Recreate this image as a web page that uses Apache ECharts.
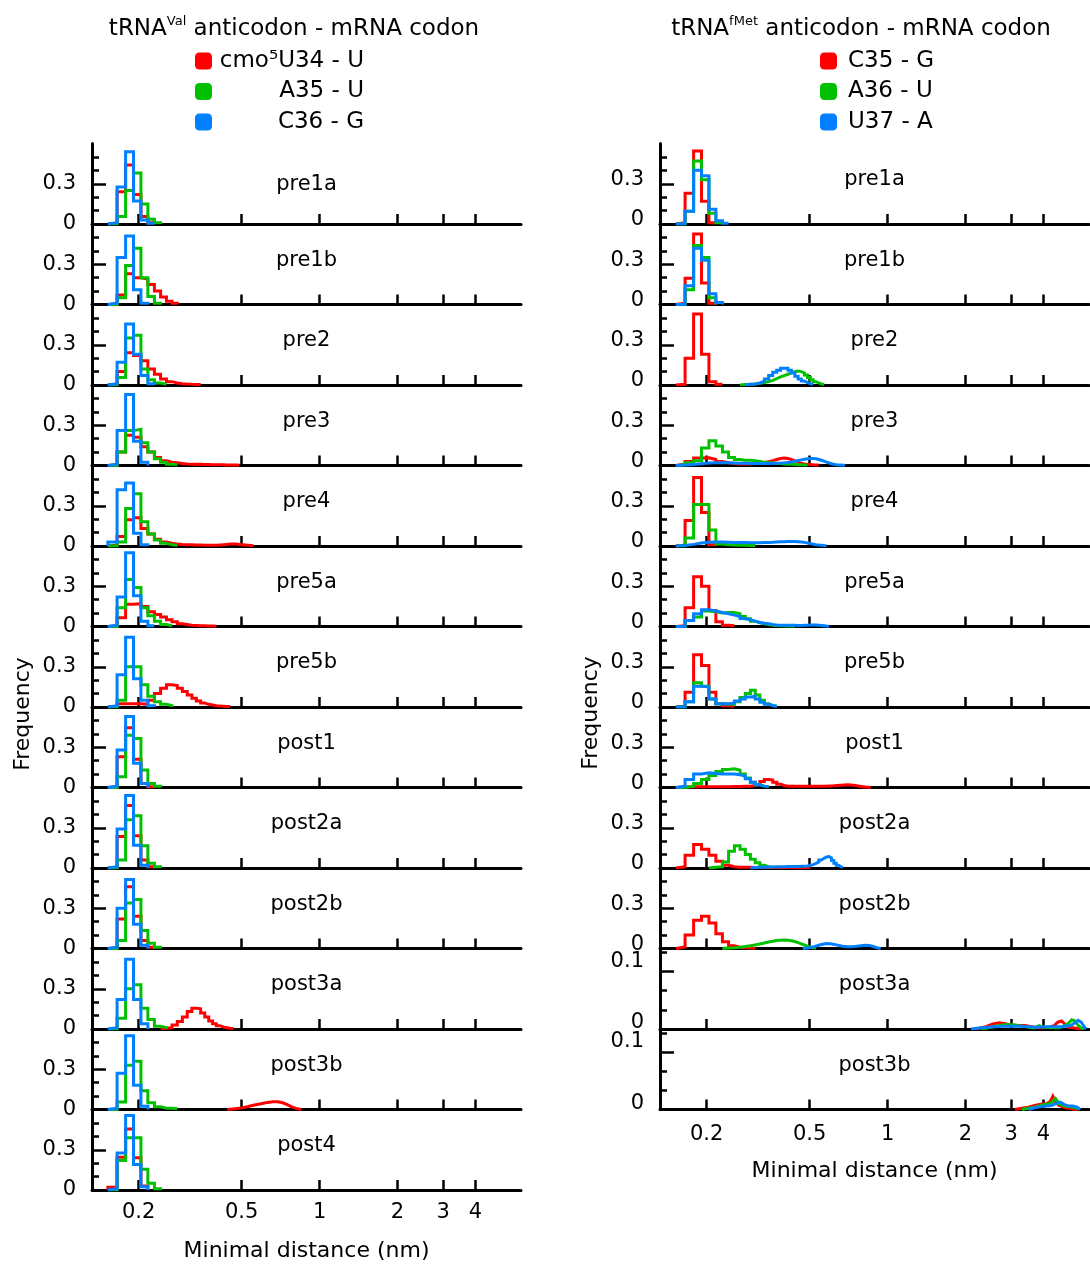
<!DOCTYPE html>
<html><head><meta charset="utf-8">
<script src="https://cdn.jsdelivr.net/npm/echarts@6/dist/echarts.min.js"></script>
<style>html,body{margin:0;padding:0;background:#fff}#c{width:1090px;height:1265px}</style>
</head><body><div id="c"></div><script>
// ---------- categories / labels ----------
const LEFT_PANELS = ['pre1a','pre1b','pre2','pre3','pre4','pre5a','pre5b','post1','post2a','post2b','post3a','post3b','post4'];
const RIGHT_PANELS = ['pre1a','pre1b','pre2','pre3','pre4','pre5a','pre5b','post1','post2a','post2b','post3a','post3b'];
const LEFT_NAMES = ['cmo\u2075U34 - U', 'A35 - U', 'C36 - G'];
const RIGHT_NAMES = ['C35 - G', 'A36 - U', 'U37 - A'];
const X_TICKS = [0.2, 0.5, 1, 2, 3, 4];
const X_RANGE = [0.132, 6];
const Y_TICKS_MAIN = [0, 0.3];
const Y_TICKS_SMALL = [0, 0.1];
const BIN_W = 0.013; // histogram bin width (nm)

// ---------- data ----------
// histogram arrays: [left edge of first bin (nm), frequency per bin ...]
// curve arrays: [[distance (nm), frequency], ...]
const L_pre1a_cmo5U34 = [0.152, 0.005, 0.24, 0.44, 0.22, 0.056, 0.01];
const L_pre1a_A35 = [0.152, 0, 0.056, 0.25, 0.38, 0.15, 0.036, 0.01];
const L_pre1a_C36 = [0.152, 0.01, 0.276, 0.539, 0.171, 0.03, 0.005];

const L_pre1b_cmo5U34 = [0.152, 0.005, 0.07, 0.23, 0.2, 0.19, 0.15, 0.1, 0.055, 0.025, 0.01];
const L_pre1b_A35 = [0.152, 0, 0.05, 0.29, 0.42, 0.2, 0.06, 0.01];
const L_pre1b_C36 = [0.152, 0.01, 0.35, 0.51, 0.11, 0.01];

const L_pre2_cmo5U34 = [0.152, 0.005, 0.1, 0.24, 0.22, 0.18, 0.12, 0.08, 0.045, 0.025, 0.015, 0.01, 0.007, 0.005, 0.004, 0.003];
const L_pre2_A35 = [0.152, 0, 0.055, 0.35, 0.37, 0.12, 0.04, 0.015, 0.005];
const L_pre2_C36 = [0.152, 0.01, 0.17, 0.455, 0.23, 0.07, 0.01];

const L_pre3_cmo5U34 = [0.152, 0.005, 0.1, 0.225, 0.21, 0.14, 0.1, 0.06, 0.035, 0.025, 0.02, 0.015, 0.012, 0.01, 0.01, 0.009, 0.008, 0.007, 0.006, 0.006, 0.005, 0.005, 0.004, 0.004, 0.003, 0.003, 0.002];
const L_pre3_A35 = [0.152, 0, 0.1, 0.26, 0.27, 0.17, 0.1, 0.05, 0.025, 0.01, 0.005];
const L_pre3_C36 = [0.152, 0.01, 0.26, 0.53, 0.18, 0.025];

const L_pre4_cmo5U34 = [0.152, 0.005, 0.07, 0.195, 0.21, 0.13, 0.09, 0.05, 0.03, 0.02, 0.015, 0.012, 0.01, 0.01, 0.008, 0.007, 0.006, 0.005, 0.005, 0.006, 0.008, 0.01, 0.012, 0.014, 0.015, 0.014, 0.012, 0.01, 0.008, 0.006, 0.004, 0.002];
const L_pre4_A35 = [0.152, 0, 0.03, 0.28, 0.39, 0.18, 0.09, 0.045, 0.02, 0.01, 0.005];
const L_pre4_C36 = [0.152, 0.03, 0.42, 0.47, 0.095, 0.01];

const L_pre5a_cmo5U34 = [0.152, 0.005, 0.065, 0.165, 0.17, 0.15, 0.11, 0.09, 0.07, 0.05, 0.035, 0.02, 0.015, 0.01, 0.008, 0.006, 0.005, 0.004, 0.003, 0.002];
const L_pre5a_A35 = [0.152, 0, 0.14, 0.35, 0.29, 0.14, 0.08, 0.04, 0.015, 0.005];
const L_pre5a_C36 = [0.152, 0.01, 0.22, 0.55, 0.23, 0.04, 0.005];

const L_pre5b_cmo5U34 = [0.152, 0.005, 0.025, 0.025, 0.025, 0.02, 0.05, 0.1, 0.14, 0.165, 0.16, 0.14, 0.115, 0.09, 0.065, 0.045, 0.03, 0.02, 0.015, 0.01, 0.008, 0.006, 0.004, 0.003];
const L_pre5b_A35 = [0.152, 0, 0.05, 0.3, 0.3, 0.165, 0.08, 0.04, 0.02, 0.01];
const L_pre5b_C36 = [0.152, 0.01, 0.24, 0.52, 0.21, 0.05, 0.01];

const L_post1_cmo5U34 = [0.152, 0.005, 0.23, 0.445, 0.21, 0.03, 0.005];
const L_post1_A35 = [0.152, 0, 0.08, 0.39, 0.365, 0.13, 0.03, 0.01];
const L_post1_C36 = [0.152, 0.01, 0.28, 0.53, 0.18, 0.03];

const L_post2a_cmo5U34 = [0.152, 0.005, 0.235, 0.465, 0.24, 0.06, 0.01];
const L_post2a_A35 = [0.152, 0, 0.06, 0.36, 0.39, 0.165, 0.035, 0.01];
const L_post2a_C36 = [0.152, 0.01, 0.29, 0.54, 0.17, 0.02];

const L_post2b_cmo5U34 = [0.152, 0.005, 0.22, 0.46, 0.24, 0.06, 0.01];
const L_post2b_A35 = [0.152, 0, 0.06, 0.34, 0.365, 0.135, 0.04, 0.01];
const L_post2b_C36 = [0.152, 0.01, 0.3, 0.515, 0.18, 0.025];

const L_post3a_cmo5U34 = [0.243, 0.005, 0.01, 0.03, 0.055, 0.09, 0.13, 0.155, 0.15, 0.12, 0.09, 0.06, 0.04, 0.025, 0.015, 0.01, 0.005, 0.003];
const L_post3a_A35 = [0.152, 0, 0.08, 0.3, 0.33, 0.155, 0.07, 0.02, 0.01];
const L_post3a_C36 = [0.152, 0.01, 0.22, 0.52, 0.22, 0.04];

const L_post3b_cmo5U34 = [[0.44,0],[0.47,0.005],[0.5,0.012],[0.53,0.022],[0.56,0.033],[0.6,0.045],[0.63,0.053],[0.66,0.058],[0.69,0.057],[0.72,0.05],[0.75,0.036],[0.78,0.02],[0.81,0.008],[0.85,0]];
const L_post3b_A35 = [0.152, 0, 0.055, 0.33, 0.36, 0.14, 0.05, 0.02, 0.01, 0.01, 0.005];
const L_post3b_C36 = [0.152, 0.01, 0.27, 0.55, 0.18, 0.025];

const L_post4_cmo5U34 = [0.152, 0.02, 0.245, 0.455, 0.24, 0.03];
const L_post4_A35 = [0.152, 0, 0.22, 0.39, 0.39, 0.155, 0.05, 0.01];
const L_post4_C36 = [0.152, 0.01, 0.275, 0.555, 0.19, 0.025];

const R_pre1a_C35 = [0.152, 0.01, 0.23, 0.545, 0.17, 0.01];
const R_pre1a_A36 = [0.152, 0, 0.095, 0.47, 0.33, 0.08, 0.01];
const R_pre1a_U37 = [0.152, 0, 0.095, 0.4, 0.36, 0.11, 0.025, 0.005];

const R_pre1b_C35 = [0.152, 0.01, 0.195, 0.525, 0.16, 0.01];
const R_pre1b_A36 = [0.152, 0, 0.11, 0.44, 0.35, 0.05];
const R_pre1b_U37 = [0.152, 0, 0.14, 0.42, 0.33, 0.08, 0.015];

const R_pre2_C35 = [0.152, 0.005, 0.2, 0.53, 0.23, 0.025, 0.005];
const R_pre2_A36 = [0.269, 0.003, 0.005, 0.008, 0.012, 0.018, 0.025, 0.035, 0.048, 0.06, 0.07, 0.08, 0.09, 0.1, 0.105, 0.1, 0.09, 0.075, 0.055, 0.04, 0.025, 0.015, 0.008, 0.004];
const R_pre2_U37 = [0.282, 0.005, 0.008, 0.015, 0.028, 0.045, 0.07, 0.095, 0.11, 0.125, 0.125, 0.11, 0.09, 0.065, 0.045, 0.03, 0.018, 0.01, 0.005];

const R_pre3_C35 = [0.152, 0.01, 0.03, 0.055, 0.058, 0.045, 0.03, 0.02, 0.015, 0.012, 0.012, 0.012, 0.014, 0.017, 0.022, 0.028, 0.036, 0.045, 0.052, 0.055, 0.052, 0.045, 0.035, 0.025, 0.018, 0.012, 0.009, 0.007, 0.005, 0.004, 0.003];
const R_pre3_A36 = [0.152, 0.005, 0.02, 0.035, 0.13, 0.185, 0.145, 0.1, 0.06, 0.045, 0.04, 0.04, 0.035, 0.03, 0.025, 0.02, 0.02, 0.015, 0.015, 0.012, 0.01, 0.01, 0.008, 0.006, 0.005, 0.004, 0.003];
const R_pre3_U37 = [0.152, 0.003, 0.008, 0.013, 0.018, 0.02, 0.02, 0.02, 0.018, 0.017, 0.016, 0.015, 0.015, 0.015, 0.015, 0.015, 0.016, 0.017, 0.018, 0.02, 0.023, 0.027, 0.032, 0.037, 0.042, 0.047, 0.05, 0.052, 0.052, 0.05, 0.045, 0.039, 0.032, 0.025, 0.019, 0.013, 0.009, 0.006, 0.004, 0.003, 0.002, 0.001];

const R_pre4_C35 = [0.152, 0.005, 0.19, 0.51, 0.25, 0.01];
const R_pre4_A36 = [0.152, 0, 0.06, 0.31, 0.31, 0.12, 0.015, 0.01, 0.008, 0.006, 0.005, 0.004, 0.003];
const R_pre4_U37 = [0.152, 0.003, 0.012, 0.022, 0.028, 0.03, 0.03, 0.028, 0.027, 0.026, 0.026, 0.025, 0.025, 0.025, 0.026, 0.027, 0.028, 0.03, 0.031, 0.032, 0.033, 0.033, 0.033, 0.032, 0.03, 0.027, 0.023, 0.018, 0.014, 0.01, 0.007, 0.005, 0.003, 0.002];

const R_pre5a_C35 = [0.152, 0.005, 0.14, 0.37, 0.3, 0.12, 0.035, 0.01, 0.005];
const R_pre5a_A36 = [0.152, 0, 0.045, 0.07, 0.115, 0.11, 0.1, 0.105, 0.105, 0.095, 0.075, 0.058, 0.04, 0.028, 0.02, 0.015, 0.01, 0.008, 0.006, 0.005, 0.004, 0.003, 0.002];
const R_pre5a_U37 = [0.152, 0, 0.045, 0.095, 0.125, 0.115, 0.105, 0.095, 0.085, 0.075, 0.06, 0.05, 0.04, 0.03, 0.025, 0.02, 0.015, 0.012, 0.01, 0.01, 0.01, 0.01, 0.009, 0.008, 0.008, 0.009, 0.01, 0.011, 0.012, 0.011, 0.009, 0.007, 0.005, 0.003, 0.002];

const R_pre5b_C35 = [0.152, 0.005, 0.11, 0.39, 0.31, 0.11, 0.025, 0.01, 0.005];
const R_pre5b_A36 = [0.152, 0, 0.04, 0.18, 0.155, 0.06, 0.025, 0.02, 0.02, 0.04, 0.07, 0.1, 0.125, 0.09, 0.05, 0.025, 0.012, 0.005];
const R_pre5b_U37 = [0.152, 0, 0.04, 0.155, 0.15, 0.06, 0.025, 0.025, 0.03, 0.045, 0.06, 0.075, 0.08, 0.06, 0.035, 0.02, 0.01, 0.005];

const R_post1_C35 = [0.152, 0.003, 0.005, 0.005, 0.005, 0.005, 0.005, 0.006, 0.007, 0.008, 0.009, 0.01, 0.015, 0.025, 0.045, 0.06, 0.055, 0.04, 0.025, 0.015, 0.01, 0.01];
const R_post1_C35_tail = [[0.425,0.01],[0.47,0.009],[0.52,0.009],[0.57,0.01],[0.62,0.013],[0.66,0.017],[0.7,0.02],[0.74,0.017],[0.78,0.01],[0.82,0.004],[0.86,0]];
const R_post1_A36 = [0.152, 0, 0.01, 0.03, 0.06, 0.09, 0.12, 0.135, 0.14, 0.13, 0.1, 0.07, 0.04, 0.02, 0.01, 0.005];
const R_post1_U37 = [0.152, 0.01, 0.06, 0.1, 0.11, 0.105, 0.1, 0.1, 0.1, 0.095, 0.085, 0.065, 0.04, 0.02, 0.01, 0.005];

const R_post2a_C35 = [0.152, 0.01, 0.095, 0.175, 0.14, 0.095, 0.05, 0.02, 0.01, 0.006, 0.005, 0.005, 0.004, 0.004, 0.004, 0.003, 0.003, 0.003, 0.003, 0.003, 0.003, 0.003, 0.003, 0.002, 0.002, 0.002, 0.002, 0.001];
const R_post2a_A36 = [0.204, 0.005, 0.01, 0.045, 0.125, 0.165, 0.14, 0.1, 0.065, 0.04, 0.02, 0.01, 0.005];
const R_post2a_U37 = [0.295, 0.003, 0.005, 0.006, 0.007, 0.008, 0.009, 0.01, 0.01, 0.011, 0.012, 0.012, 0.012, 0.013, 0.013, 0.015, 0.02, 0.025, 0.035, 0.045, 0.06, 0.072, 0.082, 0.085, 0.075, 0.055, 0.035, 0.02, 0.01, 0.005];

const R_post2b_C35 = [0.152, 0.012, 0.1, 0.21, 0.24, 0.19, 0.11, 0.05, 0.02, 0.01, 0.005, 0.003, 0.002];
const R_post2b_A36 = [0.23, 0.003, 0.006, 0.01, 0.015, 0.02, 0.027, 0.034, 0.041, 0.048, 0.054, 0.059, 0.062, 0.063, 0.062, 0.058, 0.052, 0.044, 0.035, 0.026, 0.018, 0.011, 0.006, 0.003];
const R_post2b_U37 = [[0.47,0],[0.49,0.004],[0.52,0.014],[0.55,0.028],[0.58,0.037],[0.61,0.034],[0.64,0.025],[0.67,0.017],[0.7,0.013],[0.73,0.013],[0.76,0.016],[0.79,0.021],[0.82,0.025],[0.85,0.023],[0.88,0.015],[0.91,0.006],[0.94,0]];

const R_post3a_C35 = [[2.2,0],[2.4,0.004],[2.55,0.009],[2.7,0.011],[2.85,0.009],[3.0,0.007],[3.2,0.006],[3.4,0.006],[3.6,0.004],[3.8,0.002],[4.0,0.002],[4.2,0.003],[4.4,0.006],[4.55,0.012],[4.7,0.014],[4.85,0.008],[5.0,0.003],[5.2,0.002],[5.4,0.001],[5.6,0]];
const R_post3a_A36 = [[2.3,0],[2.5,0.003],[2.7,0.006],[2.9,0.008],[3.1,0.007],[3.3,0.005],[3.5,0.003],[3.7,0.002],[3.85,0.006],[4.0,0.003],[4.3,0.002],[4.6,0.002],[4.8,0.005],[5.0,0.01],[5.15,0.016],[5.3,0.014],[5.45,0.006],[5.6,0.002],[5.75,0]];
const R_post3a_U37 = [[2.1,0],[2.3,0.002],[2.6,0.004],[2.9,0.005],[3.2,0.005],[3.5,0.004],[3.8,0.003],[4.1,0.004],[4.4,0.004],[4.7,0.004],[4.9,0.005],[5.1,0.006],[5.3,0.011],[5.45,0.015],[5.6,0.012],[5.75,0.004],[5.85,0]];

const R_post3b_C35 = [[3.1,0],[3.3,0.002],[3.5,0.004],[3.7,0.007],[3.9,0.009],[4.1,0.01],[4.25,0.014],[4.35,0.023],[4.45,0.013],[4.6,0.007],[4.8,0.004],[5.0,0.002],[5.2,0.001],[5.4,0]];
const R_post3b_A36 = [[3.3,0],[3.5,0.002],[3.7,0.004],[3.9,0.007],[4.1,0.009],[4.3,0.012],[4.45,0.019],[4.6,0.01],[4.8,0.006],[5.0,0.005],[5.2,0.004],[5.4,0.002],[5.5,0]];
const R_post3b_U37 = [[3.5,0],[3.7,0.003],[3.9,0.005],[4.1,0.006],[4.3,0.007],[4.5,0.011],[4.65,0.013],[4.8,0.009],[5.0,0.006],[5.2,0.006],[5.4,0.004],[5.55,0]];

// per panel: [red parts, green parts, blue parts]
const LEFT_DATA = [
  [[L_pre1a_cmo5U34],[L_pre1a_A35],[L_pre1a_C36]],
  [[L_pre1b_cmo5U34],[L_pre1b_A35],[L_pre1b_C36]],
  [[L_pre2_cmo5U34],[L_pre2_A35],[L_pre2_C36]],
  [[L_pre3_cmo5U34],[L_pre3_A35],[L_pre3_C36]],
  [[L_pre4_cmo5U34],[L_pre4_A35],[L_pre4_C36]],
  [[L_pre5a_cmo5U34],[L_pre5a_A35],[L_pre5a_C36]],
  [[L_pre5b_cmo5U34],[L_pre5b_A35],[L_pre5b_C36]],
  [[L_post1_cmo5U34],[L_post1_A35],[L_post1_C36]],
  [[L_post2a_cmo5U34],[L_post2a_A35],[L_post2a_C36]],
  [[L_post2b_cmo5U34],[L_post2b_A35],[L_post2b_C36]],
  [[L_post3a_cmo5U34],[L_post3a_A35],[L_post3a_C36]],
  [[L_post3b_cmo5U34],[L_post3b_A35],[L_post3b_C36]],
  [[L_post4_cmo5U34],[L_post4_A35],[L_post4_C36]]
];
const RIGHT_DATA = [
  [[R_pre1a_C35],[R_pre1a_A36],[R_pre1a_U37]],
  [[R_pre1b_C35],[R_pre1b_A36],[R_pre1b_U37]],
  [[R_pre2_C35],[R_pre2_A36],[R_pre2_U37]],
  [[R_pre3_C35],[R_pre3_A36],[R_pre3_U37]],
  [[R_pre4_C35],[R_pre4_A36],[R_pre4_U37]],
  [[R_pre5a_C35],[R_pre5a_A36],[R_pre5a_U37]],
  [[R_pre5b_C35],[R_pre5b_A36],[R_pre5b_U37]],
  [[R_post1_C35, R_post1_C35_tail],[R_post1_A36],[R_post1_U37]],
  [[R_post2a_C35],[R_post2a_A36],[R_post2a_U37]],
  [[R_post2b_C35],[R_post2b_A36],[R_post2b_U37]],
  [[R_post3a_C35],[R_post3a_A36],[R_post3a_U37]],
  [[R_post3b_C35],[R_post3b_A36],[R_post3b_U37]]
];
const RIGHT_SMALL_Y = ['post3a','post3b'];

// ---------- layout & style ----------
const FONT = 'DejaVu Sans';
const COLORS = ['#ff0000', '#00c000', '#0080ff'];
const COL_X = [92, 660];
const PLOT_W = 429;
const TOP0 = 143.5;
const PANEL_H = 80.5;

function histToPoints(h) {
  const x0 = h[0];
  const pts = [[x0, 0]];
  for (let i = 1; i < h.length; i++) pts.push([x0 + (i - 1) * BIN_W, h[i]]);
  pts.push([x0 + (h.length - 1) * BIN_W, 0]);
  return pts;
}

const grids = [], xAxes = [], yAxes = [], series = [], graphics = [];

// y label raise (px) via an invisible spacer line below the label
const LABEL_RICH = {
  v: { fontSize: 21, fontFamily: FONT, color: '#000', lineHeight: 22 },
  g0: { fontSize: 1, lineHeight: 0 },
  g8: { fontSize: 1, lineHeight: 8 },
  g12: { fontSize: 1, lineHeight: 12 },
  g22: { fontSize: 1, lineHeight: 20 }
};

function addPanel(col, row, label, parts, names, isBottom, small) {
  const idx = grids.length;
  const left = COL_X[col];
  const top = TOP0 + row * PANEL_H;
  grids.push({ left: left, top: top, width: PLOT_W, height: PANEL_H });
  xAxes.push({
    gridIndex: idx, type: 'log', logBase: 10, min: X_RANGE[0], max: X_RANGE[1],
    axisLine: { show: true, onZero: false, lineStyle: { color: '#000', width: 3 } },
    axisTick: { show: true, inside: true, length: 10, customValues: X_TICKS, lineStyle: { color: '#000', width: 2.5 } },
    axisLabel: { show: isBottom, customValues: X_TICKS, formatter: v => String(+(+v).toPrecision(3)),
      fontSize: 21, color: '#000', fontFamily: FONT, margin: col ? 15 : 12 },
    splitLine: { show: false }, minorTick: { show: false }
  });
  const yTicks = small ? Y_TICKS_SMALL : Y_TICKS_MAIN;
  const major = yTicks[1];
  const spacer = v => col === 0 ? 'g0' : (small ? (v > 0 ? 'g22' : 'g12') : 'g8');
  yAxes.push({
    gridIndex: idx, type: 'value', min: 0, max: small ? 0.14 : 0.6, interval: major,
    axisLine: { show: true, onZero: false, lineStyle: { color: '#000', width: 3 } },
    axisTick: { show: true, inside: true, length: 14, customValues: [major], lineStyle: { color: '#000', width: 2.5 } },
    minorTick: { show: true, splitNumber: 3, length: 7, lineStyle: { color: '#000', width: 2.5 } },
    axisLabel: { customValues: yTicks,
      formatter: v => col === 0 ? '{v|' + v + '}' : '{v|' + v + '}\n{' + spacer(v) + '| }',
      rich: LABEL_RICH, fontSize: 21, color: '#000', fontFamily: FONT, margin: 16 },
    splitLine: { show: false }, minorSplitLine: { show: false }
  });
  parts.forEach((plist, s) => plist.forEach(p => {
    const isHist = typeof p[0] === 'number';
    series.push({
      type: 'line', name: names[s], xAxisIndex: idx, yAxisIndex: idx,
      data: isHist ? histToPoints(p) : p,
      step: isHist ? 'end' : false,
      showSymbol: false, symbol: 'none', color: COLORS[s],
      itemStyle: { color: COLORS[s] },
      lineStyle: { color: COLORS[s], width: 3, join: 'miter' },
      silent: true, animation: false, z: 2
    });
  }));
  const labelRaise = (col === 0 && row === 0) ? 39 : 44;
  graphics.push({ type: 'text', x: left + PLOT_W / 2, y: top + PANEL_H - labelRaise, silent: true,
    style: { text: label, fontSize: 21, fontFamily: FONT, fill: '#000', align: 'center', verticalAlign: 'middle' } });
}

LEFT_PANELS.forEach((p, i) => addPanel(0, i, p, LEFT_DATA[i], LEFT_NAMES, i === LEFT_PANELS.length - 1, false));
RIGHT_PANELS.forEach((p, i) => addPanel(1, i, p, RIGHT_DATA[i], RIGHT_NAMES, i === RIGHT_PANELS.length - 1, RIGHT_SMALL_Y.includes(p)));

const richTitle = {
  m: { fontSize: 23, fontFamily: FONT, fill: '#000', lineHeight: 28 },
  s: { fontSize: 13, fontFamily: FONT, fill: '#000', verticalAlign: 'top' }
};
graphics.push(
  { type: 'text', x: 294, y: 29, silent: true, style: { text: '{m|tRNA}{s|Val}{m| anticodon - mRNA codon}', rich: richTitle, align: 'center', verticalAlign: 'middle' } },
  { type: 'text', x: 861, y: 29, silent: true, style: { text: '{m|tRNA}{s|fMet}{m| anticodon - mRNA codon}', rich: richTitle, align: 'center', verticalAlign: 'middle' } },
  { type: 'text', x: 23.5, y: 714, rotation: Math.PI / 2, silent: true, style: { text: 'Frequency', fontSize: 22, fontFamily: FONT, fill: '#000', align: 'center', verticalAlign: 'middle' } },
  { type: 'text', x: 591.5, y: 713, rotation: Math.PI / 2, silent: true, style: { text: 'Frequency', fontSize: 22, fontFamily: FONT, fill: '#000', align: 'center', verticalAlign: 'middle' } },
  { type: 'text', x: 306.5, y: 1251, silent: true, style: { text: 'Minimal distance (nm)', fontSize: 22, fontFamily: FONT, fill: '#000', align: 'center', verticalAlign: 'middle' } },
  { type: 'text', x: 874.5, y: 1171, silent: true, style: { text: 'Minimal distance (nm)', fontSize: 22, fontFamily: FONT, fill: '#000', align: 'center', verticalAlign: 'middle' } }
);

const legendBase = {
  orient: 'vertical', icon: 'roundRect', itemWidth: 17, itemHeight: 17, itemGap: 7.5, padding: 0,
  selectedMode: false, top: 49.5
};

const chart = echarts.init(document.getElementById('c'), null, { renderer: 'canvas' });
chart.setOption({
  animation: false,
  backgroundColor: '#fff',
  textStyle: { fontFamily: FONT },
  legend: [
    Object.assign({}, legendBase, { left: 195, data: LEFT_NAMES, formatter: n => '{t|' + n + '}',
      textStyle: { rich: { t: { width: 147, align: 'right', fontSize: 23, lineHeight: 24, fontFamily: FONT, color: '#000' } } } }),
    Object.assign({}, legendBase, { left: 820, data: RIGHT_NAMES, formatter: n => '{t|' + n + '}',
      textStyle: { rich: { t: { fontSize: 23, lineHeight: 24, fontFamily: FONT, color: '#000', padding: [0, 0, 0, 6] } } } })
  ],
  grid: grids, xAxis: xAxes, yAxis: yAxes, series: series, graphic: graphics
});
</script></body></html>
